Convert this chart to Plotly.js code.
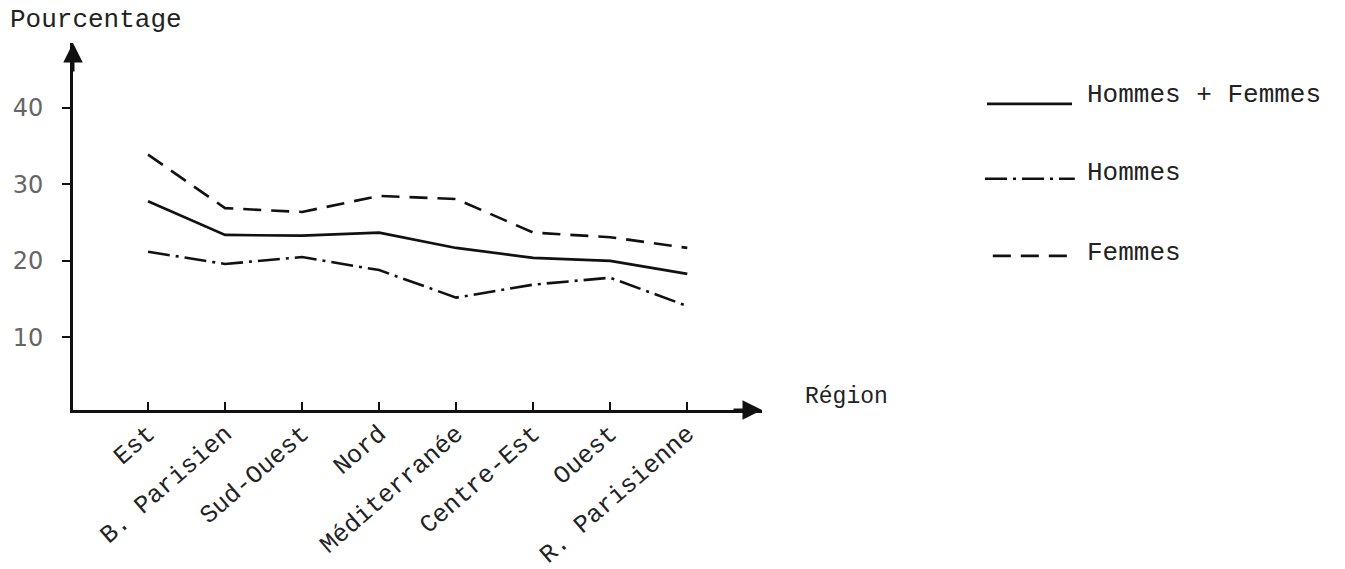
<!DOCTYPE html>
<html>
<head>
<meta charset="utf-8">
<script src="https://cdn.plot.ly/plotly-3.0.1.min.js"></script>
<style>html,body{margin:0;padding:0;background:#fff;}#chart{width:1345px;height:569px;}</style>
</head>
<body>
<div id="chart"></div>
<script>
// Data
const regions = ["Est", "B. Parisien", "Sud-Ouest", "Nord", "Méditerranée", "Centre-Est", "Ouest", "R. Parisienne"];
const hommesFemmes = [27.8, 23.4, 23.3, 23.7, 21.7, 20.4, 20.0, 18.3];
const hommes = [21.2, 19.6, 20.5, 18.8, 15.2, 16.9, 17.8, 14.1];
const femmes = [33.9, 26.9, 26.4, 28.5, 28.1, 23.7, 23.1, 21.7];
const yTicks = [10, 20, 30, 40];
const seriesNames = ["Hommes + Femmes", "Hommes", "Femmes"];

const FONT = "Liberation Mono, Courier New, monospace";
const idx = regions.map((_, i) => i);
const dashHom = "22px,6px,3px,6px";
const dashFem = "18px,10px";

const traces = [
  {x: idx, y: hommesFemmes, name: seriesNames[0], mode: "lines", line: {color: "#111", width: 2.6}},
  {x: idx, y: hommes, name: seriesNames[1], mode: "lines", line: {color: "#111", width: 2.6, dash: dashHom}},
  {x: idx, y: femmes, name: seriesNames[2], mode: "lines", line: {color: "#111", width: 2.6, dash: dashFem}}
];

// legend (custom, drawn in paper coordinates)
const legY = [0.834, 0.630, 0.420];
const legTextY = [0.859, 0.646, 0.428];
const legX0 = [1.3266, 1.3237, 1.335];
const legX1 = [1.4499, 1.454, 1.454];
const legDash = ["solid", dashHom, dashFem];
const shapes = seriesNames.map((n, i) => ({
  type: "line", xref: "paper", yref: "paper",
  x0: legX0[i], x1: legX1[i], y0: legY[i], y1: legY[i],
  line: {color: "#111", width: 2.6, dash: legDash[i]}
}));
const annotations = seriesNames.map((n, i) => ({
  text: n, xref: "paper", yref: "paper", x: 1.469, y: legTextY[i],
  xanchor: "left", yanchor: "middle", showarrow: false,
  font: {family: FONT, size: 26, color: "#222"}
}));
annotations.push(
  {text: "Pourcentage", xref: "paper", yref: "paper", x: -0.0943, y: 1.063, xanchor: "left", yanchor: "middle",
   showarrow: false, font: {family: FONT, size: 26, color: "#222"}},
  {text: "Région", xref: "paper", yref: "paper", x: 1.0595, y: 0.036, xanchor: "left", yanchor: "middle",
   showarrow: false, font: {family: FONT, size: 23, color: "#222"}},
  // arrow heads at the tips of the axes
  {xref: "paper", yref: "paper", x: 0, y: 1.0, ax: 0, ay: 30, showarrow: true, arrowhead: 2,
   arrowsize: 1.3, arrowwidth: 3, arrowcolor: "#111", text: ""},
  {xref: "paper", yref: "paper", x: 1.0, y: 0.0, ax: -30, ay: 0, showarrow: true, arrowhead: 2,
   arrowsize: 1.3, arrowwidth: 3, arrowcolor: "#111", text: ""}
);

const layout = {
  width: 1345, height: 569,
  margin: {l: 73, r: 583, t: 43, b: 159},
  paper_bgcolor: "#fff", plot_bgcolor: "#fff",
  showlegend: false,
  xaxis: {
    range: [-0.974, 7.97], tickmode: "array", tickvals: idx, ticktext: regions,
    tickangle: -41, ticks: "inside", ticklen: 8, tickwidth: 2, tickcolor: "#111",
    showline: true, linewidth: 3, linecolor: "#111", showgrid: false, zeroline: false,
    ticklabelstandoff: -4,
    tickfont: {family: FONT, size: 25, color: "#222"}
  },
  yaxis: {
    range: [0.5, 48.5], tickmode: "array", tickvals: yTicks,
    ticks: "outside", ticklen: 8, tickwidth: 2, tickcolor: "#111",
    showline: true, linewidth: 3, linecolor: "#111", showgrid: false, zeroline: false,
    ticklabelstandoff: 14,
    tickfont: {family: "DejaVu Sans, sans-serif", size: 24, color: "#666"}
  },
  shapes: shapes,
  annotations: annotations
};

Plotly.newPlot("chart", traces, layout, {displayModeBar: false, staticPlot: true});
</script>
</body>
</html>
